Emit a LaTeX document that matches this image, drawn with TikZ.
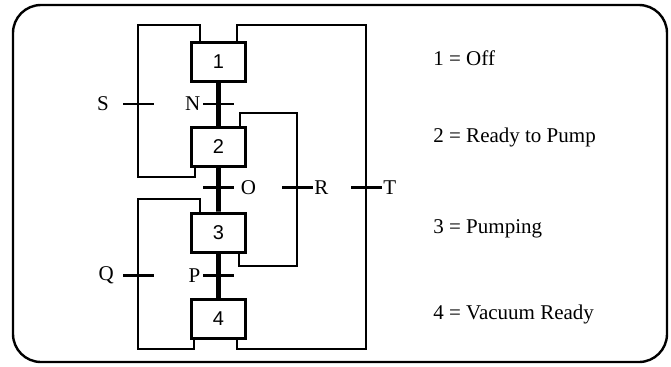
\documentclass[tikz,border=0pt]{standalone}
\usepackage{fontspec}
\setmainfont{Liberation Serif}
\newfontfamily\stepfont{Liberation Sans}
\usepackage{tikz}
\usetikzlibrary{positioning, calc}
\tikzset{
  block/.style={rectangle, draw=black, line width=1.5pt,
    minimum width=27pt, minimum height=19.5pt, inner sep=0pt,
    font=\stepfont\fontsize{10}{12}\selectfont},
  trans/.style={rectangle, fill=black, minimum width=15.5pt,
    minimum height=1.2pt, inner sep=0pt},
  tlabel/.style={font=\fontsize{10.5}{12}\selectfont, inner sep=0.5pt},
  spine/.style={line width=2.3pt},
  loopline/.style={line width=1.2pt},
  legend/.style={anchor=west, font=\fontsize{10.5}{12}\selectfont, inner sep=0pt}
}

\begin{document}
\begin{tikzpicture}[x=0.5pt, y=-0.5pt]
  \useasboundingbox (0,0) rectangle (671,366);

  % Frame
  \draw[line width=1.2pt, rounded corners=14pt] (13,5) rectangle (667,362);

  % Steps
  \node[block] (s1) at (218.5,61.5) {1};
  \node[block, below=21.5pt of s1] (s2) {2};
  \node[block, below=22pt of s2] (s3) {3};
  \node[block, below=22pt of s3] (s4) {4};

  % Columns of the return loops
  \coordinate (colL) at (138,0);
  \coordinate (colR) at (297,0);
  \coordinate (colT) at (366,0);

  % Transitions on the main line
  \node[trans, label={[tlabel, label distance=0.5pt]left:N}] (tN) at ($(s1.south)!0.5!(s2.north)$) {};
  \node[trans, label={[tlabel, label distance=2.5pt]right:O}] (tO) at ($(s2.south)!0.45!(s3.north)$) {};
  \node[trans, label={[tlabel, label distance=0.5pt]left:P}] (tP) at ($(s3.south)!0.5!(s4.north)$) {};

  % Transitions on the loops
  \node[trans, label={[tlabel, label distance=6pt]left:S}] (tS) at (tN -| colL) {};
  \node[trans, label={[tlabel, label distance=3.5pt]left:Q}] (tQ) at (tP -| colL) {};
  \node[trans, label={[tlabel, label distance=0pt]right:R}] (tR) at (tO -| colR) {};
  \node[trans, label={[tlabel, label distance=0pt]right:T}] (tT) at (tO -| colT) {};

  % Main line
  \draw[spine] (s1.south) -- (tN.center) -- (s2.north);
  \draw[spine] (s2.south) -- (tO.center) -- (s3.north);
  \draw[spine] (s3.south) -- (tP.center) -- (s4.north);

  % Return loops
  \draw[loopline] ([xshift=2.5pt]s2.south west) |- (138,177) -- (tS.center)
    -- (138,25) -| ([xshift=5pt]s1.north west);
  \draw[loopline] ([xshift=2pt]s4.south west) |- (138,349) -- (tQ.center)
    -- (138,199) -| ([xshift=5pt]s3.north west);
  \draw[loopline] ([xshift=-4pt]s3.south east) |- (297,266) -- (tR.center)
    -- (297,113) -| ([xshift=-3.5pt]s2.north east);
  \draw[loopline] ([xshift=-5pt]s4.south east) |- (366,349) -- (tT.center)
    -- (366,25) -| ([xshift=-5pt]s1.north east);

  % Legend
  \node[legend] (l1) at (433,58) {1 = Off};
  \node[legend] (l2) at (433,137) {2 = Ready to Pump};
  \node[legend] (l3) at (433,229) {3 = Pumping};
  \node[legend] (l4) at (433,314) {4 = Vacuum Ready};
\end{tikzpicture}
\end{document}
